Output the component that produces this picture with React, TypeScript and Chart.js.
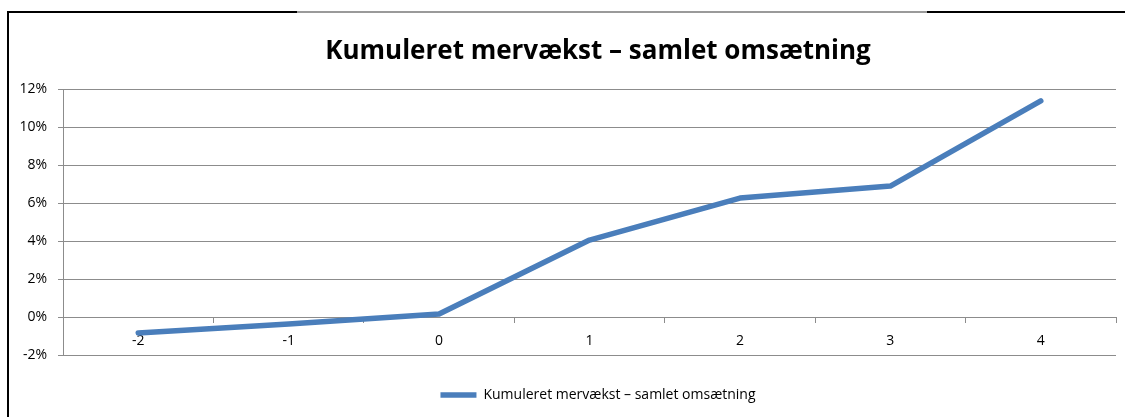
import React, { useEffect, useRef } from 'react';
import { Chart, registerables } from 'chart.js';

Chart.register(...registerables);

// ---- data ----
const categories: string[] = ['-2', '-1', '0', '1', '2', '3', '4'];
const cumulativeGrowth: number[] = [-0.84, -0.37, 0.16, 4.05, 6.26, 6.89, 11.37];
const yMin = -2;
const yMax = 12;
const yStep = 2;
const titleText = 'Kumuleret mervækst – samlet omsætning';
const seriesLabel = 'Kumuleret mervækst – samlet omsætning';

const FONT = '"Open Sans", Lato, sans-serif';
const LINE_BLUE = '#4A7EBB';
const GRID_GREY = '#8c8c8c';

export default function App() {
  const ref = useRef<HTMLCanvasElement>(null);

  useEffect(() => {
    const chart = new Chart(ref.current as HTMLCanvasElement, {
      type: 'line',
      data: {
        labels: categories,
        datasets: [
          {
            label: seriesLabel,
            data: cumulativeGrowth,
            borderColor: LINE_BLUE,
            backgroundColor: LINE_BLUE,
            borderWidth: 5.5,
            borderCapStyle: 'round',
            borderJoinStyle: 'round',
            pointRadius: 0,
            pointHoverRadius: 0,
            tension: 0,
            fill: false,
            yAxisID: 'y',
          },
        ],
      },
      options: {
        animation: false,
        responsive: true,
        maintainAspectRatio: false,
        layout: { padding: { top: 0, left: 0, right: 0, bottom: 8 } },
        plugins: {
          tooltip: { enabled: false },
          title: {
            display: true,
            text: titleText,
            color: '#000',
            font: { family: FONT, size: 26, weight: 'bold', lineHeight: 1.2 },
            padding: { top: 22.5, bottom: 22.3 },
          },
          legend: {
            display: true,
            position: 'bottom',
            labels: {
              color: '#000',
              font: { family: FONT, size: 14 },
              usePointStyle: true,
              pointStyle: 'line',
              pointStyleWidth: 36,
              padding: 33,
            },
          },
        },
        scales: {
          x: {
            type: 'category',
            offset: true,
            position: { y: 0 } as any,
            grid: {
              display: true,
              drawOnChartArea: false,
              drawTicks: true,
              tickLength: 5,
              offset: true,
              color: GRID_GREY,
            },
            border: { display: true, color: GRID_GREY, width: 1 },
            ticks: {
              color: '#000',
              font: { family: FONT, size: 14 },
              padding: 11,
              maxRotation: 0,
            },
          },
          y: {
            position: 'left',
            min: yMin,
            max: yMax,
            afterFit: (scale: any) => {
              scale.width = 54;
            },
            grid: {
              color: GRID_GREY,
              lineWidth: 1,
              drawTicks: true,
              tickLength: 5,
            },
            border: { display: true, color: GRID_GREY, width: 1 },
            ticks: {
              stepSize: yStep,
              color: '#000',
              font: { family: FONT, size: 14 },
              padding: 11,
              callback: (v: any) => `${v}%`,
            },
          },
          spacer: {
            type: 'linear',
            position: 'right',
            display: true,
            afterFit: (scale: any) => {
              scale.width = 71;
            },
            grid: { display: false, drawTicks: false },
            border: { display: false },
            ticks: { display: false },
          },
        },
      },
    });
    return () => chart.destroy();
  }, []);

  return (
    <div
      style={{
        position: 'fixed',
        left: 0,
        top: 0,
        width: 1125,
        height: 417,
        background: '#fff',
        overflow: 'hidden',
      }}
    >
      <div
        style={{
          position: 'absolute',
          left: 7,
          top: 11,
          width: 1300,
          height: 600,
          borderLeft: '2px solid #000',
          borderTop: '2px solid #000',
          boxSizing: 'border-box',
        }}
      />
      <div style={{ position: 'absolute', left: 297, top: 11, width: 630, height: 2, background: '#9a9a9a' }} />
      <div style={{ position: 'absolute', left: 9, top: 13, width: 1178, height: 407 }}>
        <canvas ref={ref} />
      </div>
    </div>
  );
}
